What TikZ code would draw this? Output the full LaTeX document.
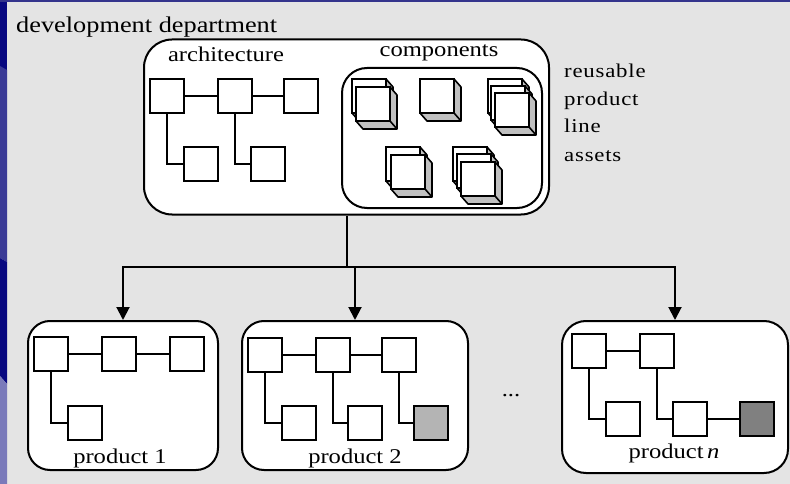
\documentclass[tikz,border=0pt]{standalone}
\usepackage{fontspec}
\setmainfont{Liberation Serif}[FakeStretch=1.17]
\newfontfamily\spacedfont{Liberation Serif}[FakeStretch=1.17, LetterSpace=4]
\usetikzlibrary{arrows.meta}
\definecolor{panel}{RGB}{228,228,228}
\definecolor{navy}{RGB}{8,8,128}
\definecolor{midblue}{RGB}{58,58,150}
\definecolor{lavender}{RGB}{122,122,186}
\definecolor{topline}{RGB}{52,52,140}
\definecolor{cubeside}{RGB}{192,192,192}
\definecolor{variantA}{RGB}{180,180,180}
\definecolor{variantB}{RGB}{128,128,128}

\begin{document}
\begin{tikzpicture}[x=1pt,y=-1pt,
  lbl/.style={font=\fontsize{21}{25}\selectfont, inner sep=0pt},
  side/.style={font=\spacedfont\fontsize{19.5}{23}\selectfont, inner sep=0pt, anchor=base west},
  container/.style={draw, line width=2pt, fill=white, inner sep=0pt},
  sq/.style={draw, line width=1.9pt, fill=white, minimum size=34pt, inner sep=0pt},
  link/.style={line width=1.9pt},
  feed/.style={line width=2pt, -{Triangle[length=13pt,width=13pt]}},
  blockcube/.pic={
    \filldraw[fill=cubeside, line width=1.6pt, line join=round]
      (34,0) -- (41,8) -- (41,42) -- (7,42) -- (0,34) -- (34,34) -- cycle;
    \draw[line width=1.6pt] (34,34) -- (41,42);
    \filldraw[fill=white, line width=1.6pt] (0,0) rectangle (34,34);
  }]

% page background and left stripe
\useasboundingbox (0,0) rectangle (790,484);
\fill[panel] (0,0) rectangle (790,484);
\fill[navy] (0,0) rectangle (7,70);
\fill[midblue] (0,66) -- (7,70) -- (7,262) -- (0,258) -- cycle;
\fill[navy] (0,258) -- (7,262) -- (7,384) -- (0,376) -- cycle;
\fill[lavender] (0,376) -- (7,384) -- (7,484) -- (0,484) -- cycle;
\fill[topline] (0,0) rectangle (790,2);

% development department
\node[lbl, font=\fontsize{22.5}{26}\selectfont, anchor=base west] (devlabel) at (16,33) {development department};
\node[container, rounded corners=28pt, minimum width=405pt, minimum height=175pt] (dev) at (346.5,127) {};
\node[lbl, anchor=base] (archlabel) at (226,62) {architecture};
\node[lbl, anchor=base] (complabel) at (439,57) {components};
\node[container, rounded corners=25pt, minimum width=200pt, minimum height=140pt] (comp) at (442,138) {};

% architecture
\node[sq] (a1) at (167,96) {};
\node[sq] (a2) at (235,96) {};
\node[sq] (a3) at (301,96) {};
\node[sq] (a4) at (201,164) {};
\node[sq] (a5) at (268,164) {};
\draw[link] (a1) -- (a2) (a2) -- (a3);
\draw[link] (a1.south) |- (a4.west);
\draw[link] (a2.south) |- (a5.west);

% reusable components
\pic at (352,79) {blockcube};
\pic at (356,87) {blockcube};
\pic at (420,79) {blockcube};
\pic at (488,79) {blockcube};
\pic at (491,86) {blockcube};
\pic at (495,93) {blockcube};
\pic at (386,147) {blockcube};
\pic at (391,155) {blockcube};
\pic at (453,147) {blockcube};
\pic at (457,154) {blockcube};
\pic at (461,162) {blockcube};

\node[side] (r1) at (564,78) {reusable};
\node[side] (r2) at (564,106) {product};
\node[side] (r3) at (564,133) {line};
\node[side] (r4) at (564,162) {assets};

% products
\node[container, rounded corners=22pt, minimum width=190pt, minimum height=149pt] (p1) at (123,395.5) {};
\node[container, rounded corners=22pt, minimum width=226pt, minimum height=149pt] (p2) at (355,395.5) {};
\node[container, rounded corners=24pt, minimum width=226pt, minimum height=152pt] (pn) at (675,397) {};

% distribution to the products
\coordinate (j) at (347,267);
\draw[line width=2pt] (dev.south -| j) -- (j);
\draw[feed] (j) -| (p1.north);
\draw[feed] (j) -| (pn.north);
\draw[feed] (j -| p2.north) -- (p2.north);

% product 1
\node[sq] (b1) at (51,354) {};
\node[sq] (b2) at (119,354) {};
\node[sq] (b3) at (187,354) {};
\node[sq] (b4) at (85,423) {};
\draw[link] (b1) -- (b2) (b2) -- (b3);
\draw[link] (b1.south) |- (b4.west);
\node[lbl, anchor=base] (p1label) at (120,463) {product 1};

% product 2
\node[sq] (c1) at (265,355) {};
\node[sq] (c2) at (333,355) {};
\node[sq] (c3) at (399,355) {};
\node[sq] (c4) at (299,423) {};
\node[sq] (c5) at (365,423) {};
\node[sq, fill=variantA] (c6) at (431,423) {};
\draw[link] (c1) -- (c2) (c2) -- (c3);
\draw[link] (c1.south) |- (c4.west);
\draw[link] (c2.south) |- (c5.west);
\draw[link] (c3.south) |- (c6.west);
\node[lbl, anchor=base] (p2label) at (355,463) {product 2};

\node[lbl, anchor=base] (dots) at (511,396) {...};

% product n
\node[sq] (d1) at (589,351) {};
\node[sq] (d2) at (657,351) {};
\node[sq] (d3) at (623,419) {};
\node[sq] (d4) at (690,419) {};
\node[sq, fill=variantB] (d5) at (757,419) {};
\draw[link] (d1) -- (d2);
\draw[link] (d1.south) |- (d3.west);
\draw[link] (d2.south) |- (d4.west);
\draw[link] (d4) -- (d5);
\node[lbl, anchor=base] (pnlabel) at (674,458) {product\,\textit{n}};
\end{tikzpicture}
\end{document}
